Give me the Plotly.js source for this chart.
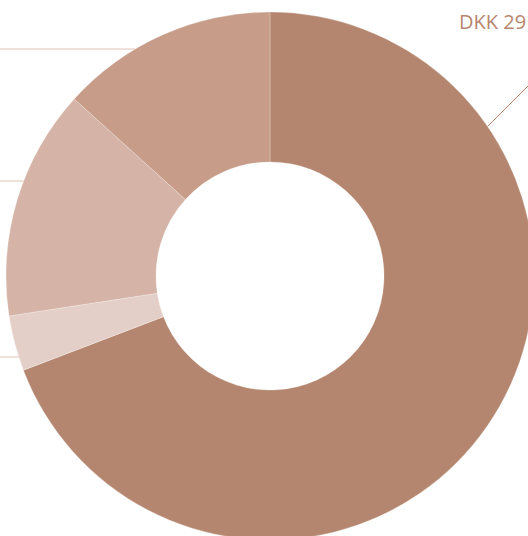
<!DOCTYPE html>
<html>
<head>
<meta charset="utf-8">
<script src="https://cdn.plot.ly/plotly-3.0.1.min.js"></script>
<style>
html,body{margin:0;padding:0;overflow:hidden;width:528px;height:536px;background:#fff;}
#chart{position:absolute;left:0;top:0;width:600px;height:600px;}
</style>
</head>
<body>
<div id="chart"></div>
<script>
// Data
var categories = ["Segment A", "Segment B", "Segment C", "Segment D"];
var values = [29.4, 1.44, 6.0, 5.65];
var colors = ["#b4866f", "#e4cfc8", "#d5b3a7", "#c79d8a"];
var bigLabel = "DKK 29";

// Layout geometry (pixels within a 600x600 graph div)
var W = 600, H = 600;
var cx = 270, cy = 276, R = 264;
var leftLabelY = [357, 181, 49]; // label rows for slices 2..4

function px(x){ return x / W; }
function py(y){ return 1 - y / H; }

var shapes = [];
// left leader lines (horizontal) for the smaller slices
for (var i = 0; i < leftLabelY.length; i++) {
  var y = leftLabelY[i];
  var dy = y - cy;
  var edgeX = cx - Math.sqrt(R*R - dy*dy);
  shapes.push({type:'line', xref:'paper', yref:'paper',
    x0: px(0), y0: py(y), x1: px(edgeX), y1: py(y),
    line:{color:'#e0c2b7', width:1}});
}
// top-right leader for the largest slice
var ang = 55.5 * Math.PI/180;
var sx = cx + R*Math.sin(ang), sy = cy - R*Math.cos(ang);
shapes.push({type:'line', xref:'paper', yref:'paper',
  x0: px(sx), y0: py(sy), x1: px(sx+110), y1: py(sy-110),
  line:{color:'#b4866f', width:1}});

var trace = {
  type:'pie',
  labels: categories,
  values: values,
  hole: 0.432,
  sort: false,
  direction: 'clockwise',
  rotation: 0,
  textinfo: 'none',
  hoverinfo: 'none',
  marker: {colors: colors, line:{color:'rgba(255,255,255,0.25)', width:1}},
  domain: {x:[(cx-R)/W, (cx+R)/W], y:[1-(cy+R)/H, 1-(cy-R)/H]},
  showlegend:false
};

var layout = {
  width: W, height: H,
  margin:{l:0,r:0,t:0,b:0},
  paper_bgcolor:'#ffffff',
  showlegend:false,
  shapes: shapes,
  annotations: [{
    xref:'paper', yref:'paper', x: px(528), y: py(22),
    xanchor:'right', yanchor:'middle', showarrow:false,
    text: bigLabel,
    font:{family:'Open Sans, sans-serif', size:20, color:'#b8866f'}
  }]
};

Plotly.newPlot('chart', [trace], layout, {displayModeBar:false, staticPlot:true});
</script>
</body>
</html>
